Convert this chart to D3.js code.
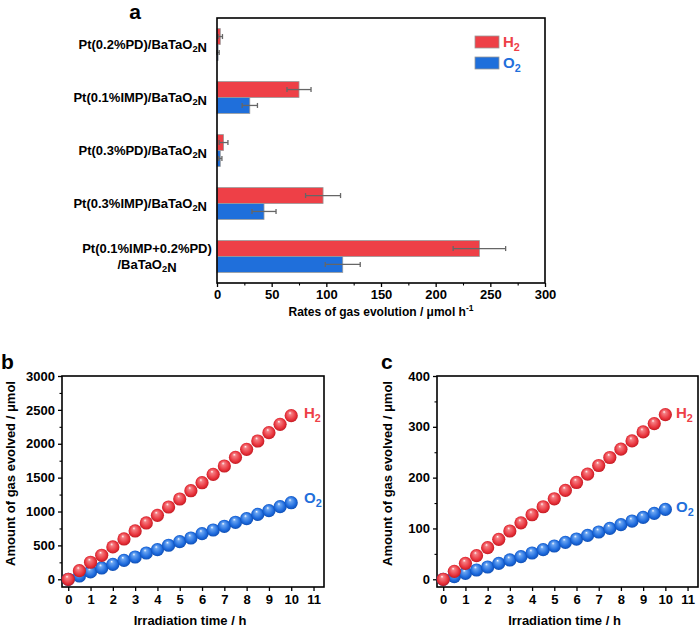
<!DOCTYPE html>
<html>
<head>
<meta charset="utf-8">
<script src="https://cdn.jsdelivr.net/npm/d3@7"></script>
<style>
  body { margin: 0; background: #fff; }
  svg { display: block; font-family: "Liberation Sans", Arial, sans-serif; font-weight: bold; }
</style>
</head>
<body>
<div id="chart"></div>
<script>
// ---------- Data ----------
const categories = [
  "Pt(0.2%PD)/BaTaO2N",
  "Pt(0.1%IMP)/BaTaO2N",
  "Pt(0.3%PD)/BaTaO2N",
  "Pt(0.3%IMP)/BaTaO2N",
  "Pt(0.1%IMP+0.2%PD)\n/BaTaO2N"
];
const seriesNames = ["H2", "O2"];
const h2Rates = [3, 75, 6, 97, 240];
const h2Err = [2, 11, 4, 16, 24];
const o2Rates = [1, 30, 3, 43, 115];
const o2Err = [1, 7, 1.5, 11, 16];
const rateTicks = [0, 50, 100, 150, 200, 250, 300];

const times = [0, 0.5, 1, 1.5, 2, 2.5, 3, 3.5, 4, 4.5, 5, 5.5, 6, 6.5, 7, 7.5, 8, 8.5, 9, 9.5, 10];
const bH2 = [0, 127, 251, 354, 477, 595, 713, 831, 944, 1067, 1185, 1307, 1425, 1549, 1672, 1800, 1918, 2041, 2164, 2287, 2414];
const bO2 = [0, 48, 109, 167, 221, 280, 329, 388, 437, 502, 555, 609, 673, 727, 782, 841, 894, 959, 1012, 1071, 1130];
const cH2 = [0, 15.7, 31.4, 46.5, 62.2, 78.6, 95, 111, 127, 142.7, 158.4, 174.8, 190.5, 206.9, 223.9, 239.6, 256, 272.3, 290, 306.4, 324];
const cO2 = [0, 5.2, 11.8, 18.3, 24.2, 31.4, 38, 44.5, 51.7, 58.3, 65.5, 72.7, 79.2, 86.4, 93, 100.2, 107.4, 114.6, 121.8, 129.6, 137.5];
const timeTicks = [0, 1, 2, 3, 4, 5, 6, 7, 8, 9, 10, 11];
const bTicks = [0, 500, 1000, 1500, 2000, 2500, 3000];
const cTicks = [0, 100, 200, 300, 400];

// ---------- Styles ----------
const RED = "#ee4047";
const BLUE = "#1f6fdb";
const colors = { H2: RED, O2: BLUE };

const W = 700, H = 630;
const svg = d3.select("#chart").append("svg").attr("width", W).attr("height", H);

// gradients for spheres
const defs = svg.append("defs");
function sphereGrad(id, light, mid, dark) {
  const g = defs.append("radialGradient").attr("id", id)
    .attr("cx", "50%").attr("cy", "50%").attr("r", "55%")
    .attr("fx", "40%").attr("fy", "28%");
  g.append("stop").attr("offset", "0%").attr("stop-color", "#ffffff");
  g.append("stop").attr("offset", "20%").attr("stop-color", light);
  g.append("stop").attr("offset", "70%").attr("stop-color", mid);
  g.append("stop").attr("offset", "100%").attr("stop-color", dark);
}
sphereGrad("gRed", "#f57d82", "#e8323b", "#b8141c");
sphereGrad("gBlue", "#6aa5f2", "#1c69dc", "#0c47a8");

// text with subscript 2 after H/O
function richText(sel, str, size) {
  const parts = str.split(/(O2|H2)/).filter(s => s.length);
  parts.forEach(p => {
    if (p === "O2" || p === "H2") {
      sel.append("tspan").text(p[0]);
      sel.append("tspan").attr("font-size", size * 0.72).attr("dy", size * 0.28).text("2");
      sel.append("tspan").attr("dy", -size * 0.28).text("");
    } else {
      sel.append("tspan").text(p);
    }
  });
}

// ---------- Panel a ----------
const A = { left: 217, right: 545, top: 18, bottom: 283 };
const x = d3.scaleLinear().domain([0, 300]).range([A.left, A.right]);
const y = d3.scaleBand().domain(categories).range([A.top, A.bottom]).paddingInner(0.4).paddingOuter(0.2);
const ySub = d3.scaleBand().domain(seriesNames).range([0, y.bandwidth()]);

const ga = svg.append("g");
const barData = [];
categories.forEach((c, i) => {
  barData.push({ c, s: "H2", v: h2Rates[i], e: h2Err[i] });
  barData.push({ c, s: "O2", v: o2Rates[i], e: o2Err[i] });
});
ga.selectAll("rect.bar").data(barData).enter().append("rect")
  .attr("class", "bar")
  .attr("x", x(0))
  .attr("y", d => y(d.c) + ySub(d.s))
  .attr("width", d => x(d.v) - x(0))
  .attr("height", ySub.bandwidth())
  .attr("fill", d => colors[d.s])
  .attr("stroke", "#9a9a9a").attr("stroke-width", 0.8);

// error bars
const eb = ga.selectAll("g.err").data(barData).enter().append("g").attr("class", "err")
  .attr("stroke", "#666").attr("stroke-width", 1.3);
eb.append("line")
  .attr("x1", d => x(Math.max(0, d.v - d.e))).attr("x2", d => x(d.v + d.e))
  .attr("y1", d => y(d.c) + ySub(d.s) + ySub.bandwidth() / 2)
  .attr("y2", d => y(d.c) + ySub(d.s) + ySub.bandwidth() / 2);
[-1, 1].forEach(sgn => {
  eb.append("line")
    .attr("x1", d => x(Math.max(0, d.v + sgn * d.e))).attr("x2", d => x(Math.max(0, d.v + sgn * d.e)))
    .attr("y1", d => y(d.c) + ySub(d.s) + ySub.bandwidth() / 2 - 2.5)
    .attr("y2", d => y(d.c) + ySub(d.s) + ySub.bandwidth() / 2 + 2.5);
});

// frame
ga.append("rect").attr("x", A.left).attr("y", A.top)
  .attr("width", A.right - A.left).attr("height", A.bottom - A.top)
  .attr("fill", "none").attr("stroke", "#000").attr("stroke-width", 1.6);

// x axis
const xAxisA = ga.append("g").attr("transform", `translate(0,${A.bottom})`)
  .call(d3.axisBottom(x).tickValues(rateTicks).tickSize(4).tickPadding(3));
xAxisA.select(".domain").remove();
xAxisA.selectAll("text").attr("font-size", 13).attr("font-family", "Liberation Sans, Arial").attr("font-weight", "bold").attr("fill", "#000");
xAxisA.selectAll("line").attr("stroke-width", 1.3);
ga.append("g").attr("transform", `translate(0,${A.bottom})`)
  .call(d3.axisBottom(x).tickValues(d3.range(25, 300, 50)).tickSize(2.5).tickFormat(""))
  .call(g => g.select(".domain").remove())
  .selectAll("line").attr("stroke-width", 1.1);

// category labels
categories.forEach(c => {
  const lines = c.split("\n");
  const cy = y(c) + y.bandwidth() / 2;
  const lh = 16;
  lines.forEach((ln, j) => {
    const t = ga.append("text")
      .attr("x", lines.length > 1 ? 147 : 207)
      .attr("y", cy + (j - (lines.length - 1) / 2) * lh + 4)
      .attr("text-anchor", lines.length > 1 ? "middle" : "end")
      .attr("font-size", 13).attr("fill", "#000");
    richText(t, ln, 13);
  });
});

// legend
seriesNames.forEach((s, i) => {
  const ly = 36 + i * 21;
  ga.append("rect").attr("x", 475).attr("y", ly).attr("width", 24).attr("height", 12)
    .attr("fill", colors[s]).attr("stroke", "#9a9a9a").attr("stroke-width", 0.8);
  const t = ga.append("text").attr("x", 503).attr("y", ly + 11)
    .attr("font-size", 15).attr("fill", colors[s]);
  richText(t, s, 15);
});

// x title
const xt = ga.append("text").attr("x", 381).attr("y", 316).attr("text-anchor", "middle")
  .attr("font-size", 12).attr("fill", "#000");
xt.append("tspan").text("Rates of gas evolution / μmol h");
xt.append("tspan").attr("font-size", 8.5).attr("dy", -5).text("-1");

// panel letter
svg.append("text").attr("x", 135).attr("y", 19).attr("text-anchor", "middle")
  .attr("font-size", 21).attr("fill", "#000").text("a");

// ---------- Panels b and c ----------
function scatterPanel(o) {
  const g = svg.append("g");
  const sx = d3.scaleLinear().domain([-0.28, 11.47]).range([o.left, o.right]);
  const sy = d3.scaleLinear().domain(o.yDomain).range([o.bottom, o.top]);

  // frame
  g.append("rect").attr("x", o.left).attr("y", o.top)
    .attr("width", o.right - o.left).attr("height", o.bottom - o.top)
    .attr("fill", "none").attr("stroke", "#000").attr("stroke-width", 1.6);

  // axes
  const ax = g.append("g").attr("transform", `translate(0,${o.bottom})`)
    .call(d3.axisBottom(sx).tickValues(timeTicks).tickSize(4).tickPadding(4));
  const ay = g.append("g").attr("transform", `translate(${o.left},0)`)
    .call(d3.axisLeft(sy).tickValues(o.yTicks).tickFormat(d3.format("d")).tickSize(4).tickPadding(3));
  g.append("g").attr("transform", `translate(${o.left},0)`)
    .call(d3.axisLeft(sy).tickValues(o.yMinor).tickSize(2.5).tickFormat(""))
    .call(s => s.select(".domain").remove())
    .selectAll("line").attr("stroke-width", 1.1);
  [ax, ay].forEach(a => {
    a.select(".domain").remove();
    a.selectAll("line").attr("stroke-width", 1.3);
    a.selectAll("text").attr("font-size", 13).attr("font-family", "Liberation Sans, Arial")
      .attr("font-weight", "bold").attr("fill", "#000");
  });

  // points
  const pts = [];
  times.forEach((t, i) => pts.push({ t, v: o.o2[i], s: "O2" }));
  times.forEach((t, i) => pts.push({ t, v: o.h2[i], s: "H2" }));
  g.selectAll("circle.pt").data(pts).enter().append("circle")
    .attr("class", "pt")
    .attr("cx", d => sx(d.t)).attr("cy", d => sy(d.v)).attr("r", 6.6)
    .attr("fill", d => d.s === "H2" ? "url(#gRed)" : "url(#gBlue)");

  // series labels
  [["H2", o.h2Label], ["O2", o.o2Label]].forEach(([s, pos]) => {
    const t = g.append("text").attr("x", pos[0]).attr("y", pos[1])
      .attr("font-size", 15).attr("fill", colors[s]);
    richText(t, s, 15);
  });

  // titles
  g.append("text").attr("x", (o.left + o.right) / 2 - 3).attr("y", 625)
    .attr("text-anchor", "middle").attr("font-size", 13).attr("fill", "#000")
    .text("Irradiation time / h");
  g.append("text").attr("transform", `translate(${o.yTitleX},${(o.top + o.bottom) / 2 - 8}) rotate(-90)`)
    .attr("text-anchor", "middle").attr("font-size", 13).attr("fill", "#000")
    .text("Amount of gas evolved / μmol");
  svg.append("text").attr("x", o.letter[0]).attr("y", o.letter[1])
    .attr("font-size", 21).attr("fill", "#000").text(o.letterText);
}

scatterPanel({
  left: 62, right: 324, top: 376, bottom: 587,
  yDomain: [-114, 3000], yTicks: bTicks, yMinor: d3.range(250, 3000, 500),
  h2: bH2, o2: bO2,
  h2Label: [304, 418], o2Label: [304, 503],
  yTitleX: 15, letter: [1, 369], letterText: "b"
});
scatterPanel({
  left: 437, right: 698, top: 376, bottom: 587,
  yDomain: [-15.2, 400], yTicks: cTicks, yMinor: d3.range(50, 400, 100),
  h2: cH2, o2: cO2,
  h2Label: [676, 418], o2Label: [676, 512],
  yTitleX: 392, letter: [381, 369], letterText: "c"
});
</script>
</body>
</html>
